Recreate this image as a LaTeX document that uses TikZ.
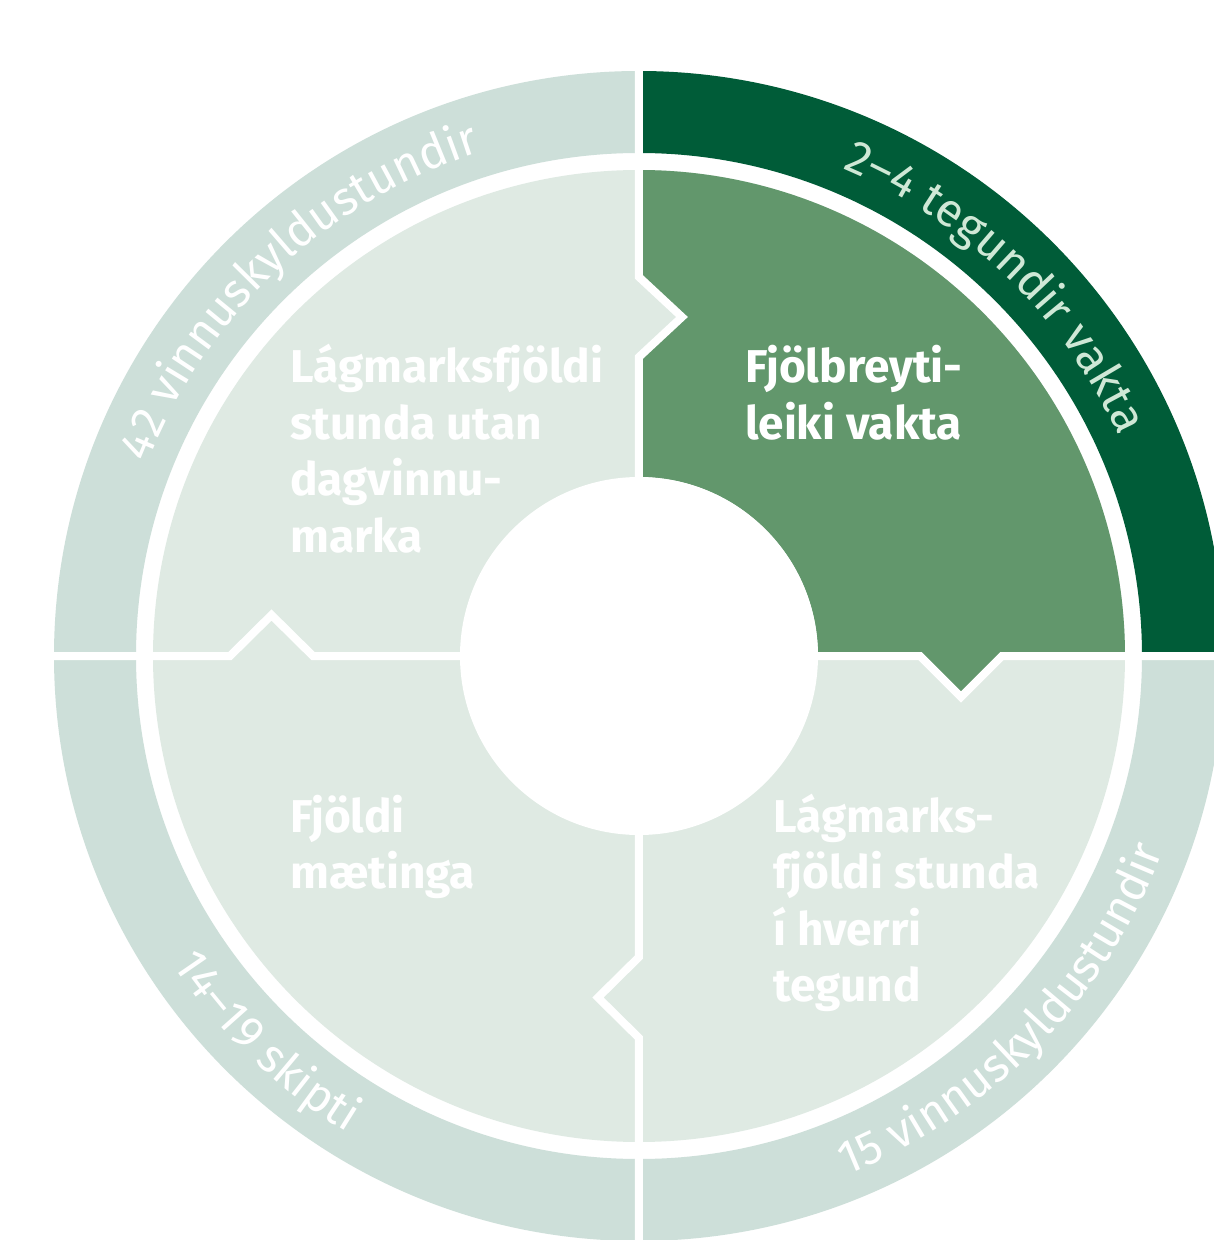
\documentclass[tikz,border=0pt]{standalone}
\usepackage{fontspec}
\setmainfont{Fira Sans}
\newfontfamily\ringfont{Fira Sans}
\usetikzlibrary{decorations.text}
\definecolor{ringlight}{HTML}{CDDFD9}
\definecolor{ringdark}{HTML}{005C38}
\definecolor{quadlight}{HTML}{DFEAE3}
\definecolor{quadgreen}{HTML}{62976C}
\definecolor{ringtextdark}{HTML}{CFE8D6}
\begin{document}
\begin{tikzpicture}[x=1pt,y=1pt,
  divider/.style={white, line width=8pt, line join=miter},
  quadlabel/.style={anchor=base west, inner sep=0pt, text=white,
    font=\fontsize{46}{56.5}\selectfont\bfseries},
  ringtext/.style={decorate, decoration={text along path, text align=center,
    text color=#1}},
  ]
\useasboundingbox (-639,-584) rectangle (575,656);
\clip (-639,-584) rectangle (575,656);
\fill[white] (-639,-584) rectangle (575,656);
% outer ring segments
\fill[ringlight] (90:585) arc[start angle=90,end angle=180,radius=585] -- (180:503) arc[start angle=180,end angle=90,radius=503] -- cycle;
\fill[ringdark] (0:585) arc[start angle=0,end angle=90,radius=585] -- (90:503) arc[start angle=90,end angle=0,radius=503] -- cycle;
\fill[ringlight] (180:585) arc[start angle=180,end angle=360,radius=585] -- (360:503) arc[start angle=360,end angle=180,radius=503] -- cycle;
% inner quadrants
\fill[quadlight] (0,0) circle[radius=486];
\fill[quadgreen] (0,486) -- (0,379) -- (43,339) -- (0,299) -- (0,179)
  arc[start angle=90,end angle=0,radius=179] -- (281,0) -- (322,-41) -- (363,0) -- (486,0)
  arc[start angle=0,end angle=90,radius=486] -- cycle;
% dividers
\draw[divider] (0,179) -- (0,299) -- (43,339) -- (0,379) -- (0,620);
\draw[divider] (179,0) -- (281,0) -- (322,-41) -- (363,0) -- (620,0);
\draw[divider] (0,-179) -- (0,-301) -- (-41,-341.5) -- (0,-382) -- (0,-620);
\draw[divider] (-179,0) -- (-326,0) -- (-367.5,41) -- (-409,0) -- (-620,0);
% centre hole
\fill[white] (0,0) circle[radius=179];
% ring texts
\path[ringtext=white, decoration={text={|\ringfont\fontsize{47}{50}\selectfont|42 vinnuskyldustundir}}]
  (163:528) arc[start angle=163,end angle=103,radius=528];
\path[ringtext=ringtextdark, decoration={text={|\ringfont\fontsize{47}{50}\selectfont|2–4 tegundir vakta}}]
  (76:528) arc[start angle=76,end angle=16,radius=528];
\path[ringtext=white, decoration={text={|\ringfont\fontsize{47}{50}\selectfont|14–19 skipti}}]
  (196:559) arc[start angle=196,end angle=256,radius=559];
\path[ringtext=white, decoration={text={|\ringfont\fontsize{47}{50}\selectfont|15 vinnuskyldustundir}}]
  (-79.3:559) arc[start angle=-79.3,end angle=-9.3,radius=559];
% quadrant labels
\node[quadlabel] (tl) at (-349,273) {\begin{tabular}[t]{@{}l@{}}Lágmarksfjöldi\\stunda utan\\dagvinnu-\\marka\end{tabular}};
\node[quadlabel] (tr) at (106,273) {\begin{tabular}[t]{@{}l@{}}Fjölbreyti-\\leiki vakta\end{tabular}};
\node[quadlabel] (bl) at (-349,-176) {\begin{tabular}[t]{@{}l@{}}Fjöldi\\mætinga\end{tabular}};
\node[quadlabel] (br) at (134,-176) {\begin{tabular}[t]{@{}l@{}}Lágmarks-\\fjöldi stunda\\í hverri\\tegund\end{tabular}};
\end{tikzpicture}
\end{document}
